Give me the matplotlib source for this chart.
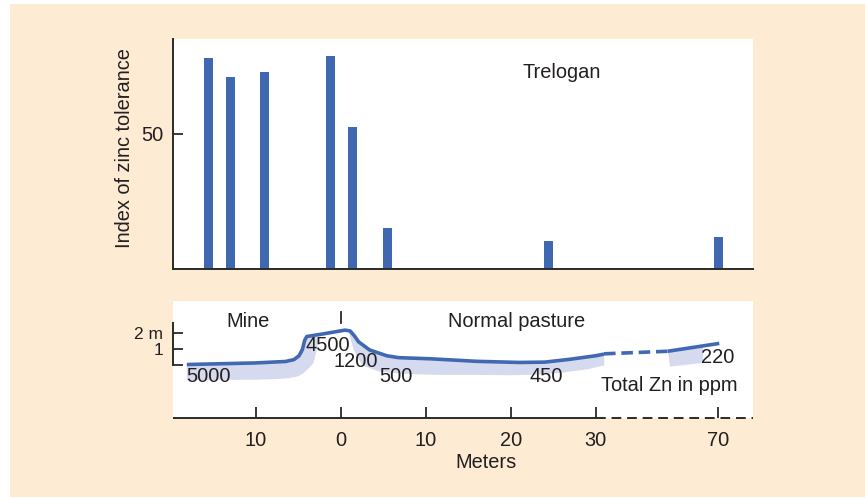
import numpy as np
import matplotlib
matplotlib.use('Agg')
import matplotlib.pyplot as plt
from matplotlib.patches import Rectangle

plt.rcParams['font.family'] = ['Liberation Sans', 'DejaVu Sans']

# ---------------- data ----------------
bar_x = [-15.55, -12.96, -8.96, -1.2, 1.39, 5.5, 24.45, 70]
bar_h = [78.0, 70.9, 72.8, 78.8, 52.3, 15.1, 10.3, 11.8]

# ground surface profile (m along transect, m height)
surface_x = [-18.1, -10, -6.5, -5.5, -4.9, -4.5, -4.25, -4.0, -2.0, 0.5, 1.1,
             1.6, 2.1, 3.4, 5.4, 6.8, 10.5, 16, 21, 24, 27, 30, 32.7]
surface_y = [0.05, 0.15, 0.24, 0.36, 0.6, 1.0, 1.55, 1.8, 1.97, 2.2, 2.15,
             1.85, 1.47, 0.96, 0.6, 0.48, 0.41, 0.25, 0.18, 0.2, 0.38, 0.6, 0.7]
gap_x = [32.7, 53.5]
gap_y = [0.72, 0.88]
far_x = [53.5, 70.3]
far_y = [0.88, 1.37]

# lower edges of the shaded (zinc-rich) soil zones
shade_left_x = [-18.1, -10, -7.5, -6, -5, -4.4, -3.8, -3.22, -2.82, -2.55]
shade_left_lo = [-0.92, -0.9, -0.86, -0.8, -0.68, -0.5, -0.2, 0.12, 0.96, 1.75]
shade_mid_x = [0.9, 1.5, 2.5, 4.6, 8, 12, 16, 20, 23, 26, 29, 32.8]
shade_mid_lo = [2.15, 1.0, 0.0, -0.4, -0.55, -0.6, -0.6, -0.62, -0.58, -0.46, -0.25, 0.0]
shade_far_x = [53.6, 65, 65, 54.2]
shade_far_y = [0.88, 1.2, 0.15, -0.08]

zn_labels = ['5000', '4500', '1200', '500', '450', '220']
zn_x = [-15.5, -1.46, 1.78, 6.48, 24.2, 69.8]
zn_y = [-0.67, 1.27, 0.22, -0.67, -0.67, 0.48]

xticks = [-10, 0, 10, 20, 30, 70]
xticklabels = ['10', '0', '10', '20', '30', '70']

# ---------------- styling ----------------
BG = '#FDEBD3'
BLUE = '#4169B3'
SHADE = '#D6DAEF'
INK = '#231F20'
AX = '#2A2A2A'
FS = 14.4

BREAK, K = 30.0, 0.3606


def fwd(x):
    x = np.asarray(x, float)
    return np.where(x <= BREAK, x, BREAK + (x - BREAK) * K)


def inv(x):
    x = np.asarray(x, float)
    return np.where(x <= BREAK, x, BREAK + (x - BREAK) / K)


XLIM = (-19.73, 81.3)

fig = plt.figure(figsize=(8.65, 4.98), dpi=100, facecolor='white')
fig.patches.append(Rectangle((10 / 865, 1 / 498), 855 / 865, 493 / 498,
                             transform=fig.transFigure, facecolor=BG,
                             edgecolor='none', zorder=-10))

# ---------------- top panel ----------------
ax1 = fig.add_axes([173 / 865, 1 - 269 / 498, 580 / 865, 230 / 498])
ax1.set_facecolor('white')
ax1.set_xscale('function', functions=(fwd, inv))
ax1.set_xlim(*XLIM)
ax1.set_ylim(0, 85)
widths = [1.06 if x <= BREAK else 1.06 / K for x in bar_x]
ax1.bar(bar_x, bar_h, width=widths, color='#4068B0', edgecolor='none', zorder=2)
for s in ['top', 'right']:
    ax1.spines[s].set_visible(False)
for s in ['left', 'bottom']:
    ax1.spines[s].set_color(AX)
    ax1.spines[s].set_linewidth(1.4)
ax1.set_xticks([])
ax1.set_yticks([50])
ax1.set_yticklabels(['50'])
ax1.tick_params(axis='y', direction='in', length=7.5, width=1.3, color=AX,
                labelsize=FS, labelcolor=INK, pad=7)
ax1.text(26.0, 72.7, 'Trelogan', ha='center', va='center', fontsize=FS, color=INK)
fig.text(124 / 865, 1 - 148 / 498, 'Index of zinc tolerance', rotation=90,
         ha='center', va='center', fontsize=FS, color=INK)

# ---------------- bottom panel ----------------
ax2 = fig.add_axes([173 / 865, 1 - 418.3 / 498, 580 / 865, 117.3 / 498])
ax2.set_facecolor('white')
ax2.set_xscale('function', functions=(fwd, inv))
ax2.set_xlim(*XLIM)
ax2.set_ylim(-3.31, 4.02)

# shaded zones
lx = [x for x in surface_x if x <= shade_left_x[-1]] + shade_left_x[::-1]
ly = [y for x, y in zip(surface_x, surface_y) if x <= shade_left_x[-1]] + shade_left_lo[::-1]
ax2.fill(lx, ly, color=SHADE, lw=0, zorder=1)
mx = [shade_mid_x[0]] + [x for x in surface_x if shade_mid_x[0] < x <= shade_mid_x[-1]] + shade_mid_x[::-1]
my = [shade_mid_lo[0]] + [y for x, y in zip(surface_x, surface_y)
                          if shade_mid_x[0] < x <= shade_mid_x[-1]] + shade_mid_lo[::-1]
ax2.fill(mx, my, color=SHADE, lw=0, zorder=1)
ax2.fill(shade_far_x, shade_far_y, color=SHADE, lw=0, zorder=1)

# surface line
ax2.plot(surface_x, surface_y, color=BLUE, lw=2.6, solid_capstyle='butt',
         solid_joinstyle='round', zorder=3)
ax2.plot(gap_x, gap_y, color=BLUE, lw=2.6, linestyle=(0, (3.2, 1.6)),
         dash_capstyle='butt', zorder=3)
ax2.plot(far_x, far_y, color=BLUE, lw=2.6, solid_capstyle='butt', zorder=3)

# labels
for t, x, y in zip(zn_labels, zn_x, zn_y):
    ax2.text(x, y, t, ha='center', va='center', fontsize=FS, color=INK, zorder=4)
ax2.text(-10.9, 2.72, 'Mine', ha='center', va='center', fontsize=FS, color=INK)
ax2.text(20.7, 2.72, 'Normal pasture', ha='center', va='center', fontsize=FS, color=INK)
ax2.text(53.9, -1.27, 'Total Zn in ppm', ha='center', va='center', fontsize=FS, color=INK)
ax2.plot([0, 0], [2.63, 3.33], color=AX, lw=1.3, zorder=2)

# axes styling
for s in ['top', 'right', 'bottom']:
    ax2.spines[s].set_visible(False)
ax2.spines['left'].set_bounds(0, 2.65)
ax2.spines['left'].set_color(AX)
ax2.spines['left'].set_linewidth(1.4)
xt = ax2.get_xaxis_transform()
ax2.plot([XLIM[0], BREAK], [0, 0], color=AX, lw=1.4, transform=xt,
         clip_on=False, solid_capstyle='butt')
ax2.plot([BREAK, XLIM[1]], [0, 0], color=AX, lw=1.4, transform=xt,
         clip_on=False, linestyle=(0, (5.0, 3.0)), dash_capstyle='butt')
ax2.set_yticks([0, 1, 2])
ax2.set_yticklabels(['', '1', '2 m'])
ax2.tick_params(axis='y', direction='in', length=7.5, width=1.3, color=AX,
                labelsize=12.5, labelcolor=INK, pad=7)
ax2.set_xticks(xticks)
ax2.set_xticklabels(xticklabels)
ax2.tick_params(axis='x', direction='in', length=7.7, width=1.3, color=AX,
                labelsize=FS, labelcolor=INK, pad=9)
fig.text(486 / 865, 1 - 462 / 498, 'Meters', ha='center', va='center',
         fontsize=FS, color=INK)

fig.savefig('out.png', dpi=100, facecolor='white')
